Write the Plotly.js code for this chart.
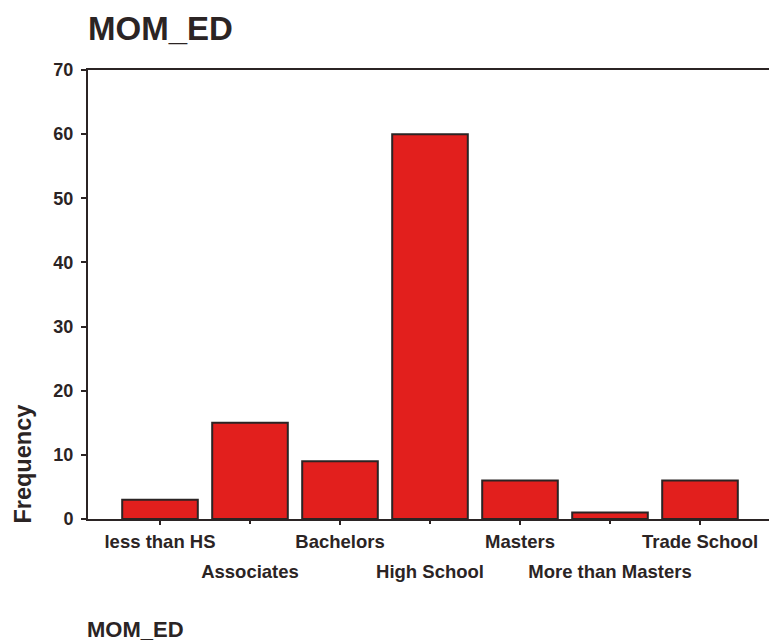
<!DOCTYPE html>
<html>
<head>
<meta charset="utf-8">
<script src="https://cdn.plot.ly/plotly-3.0.1.min.js"></script>
<style>
html, body { margin: 0; padding: 0; width: 769px; height: 643px; overflow: hidden; background: #fff; }
#chart { width: 772px; height: 643px; }
</style>
</head>
<body>
<div id="chart"></div>
<script>
const categories = ["less than HS", "Associates", "Bachelors", "High School", "Masters", "More than Masters", "Trade School"];
const frequencies = [3, 15, 9, 60, 6, 1, 6];
const yTicks = [0, 10, 20, 30, 40, 50, 60, 70];
const chartTitle = "MOM_ED";
const xTitle = "MOM_ED";
const yTitle = "Frequency";

const FONT = "Liberation Sans, Arial, Helvetica, sans-serif";
const INK = "#2b2424";

const rowA = categories.map((c, i) => i).filter(i => i % 2 === 0);
const rowB = categories.map((c, i) => i).filter(i => i % 2 === 1);

const trace = {
  type: "bar",
  x: categories.map((c, i) => i),
  y: frequencies,
  width: 0.84,
  marker: { color: "#e21f1d", line: { color: INK, width: 2 } },
  hoverinfo: "x+y"
};

const layout = {
  width: 772, height: 643,
  margin: { l: 88, r: 0, t: 70, b: 123.5 },
  paper_bgcolor: "#ffffff",
  plot_bgcolor: "#ffffff",
  showlegend: false,
  font: { family: FONT, color: INK, weight: "bold" },
  title: {
    text: chartTitle,
    font: { family: FONT, size: 33, color: INK, weight: "bold" },
    xref: "paper", x: 0, xanchor: "left",
    yref: "container", y: 1 - 28 / 643, yanchor: "middle"
  },
  xaxis: {
    type: "linear",
    range: [-0.8, 6.8],
    tickmode: "array",
    tickvals: rowA,
    ticktext: rowA.map(i => categories[i]),
    ticks: "outside", ticklen: 4, tickwidth: 2, tickcolor: INK,
    showline: true, linecolor: INK, linewidth: 2, mirror: true,
    showgrid: false, zeroline: false,
    ticklabelstandoff: 1,
    tickfont: { family: FONT, size: 18.5, color: INK, weight: "bold" },
    fixedrange: true
  },
  xaxis2: {
    type: "linear",
    overlaying: "x", anchor: "y", side: "bottom",
    range: [-0.8, 6.8],
    tickmode: "array",
    tickvals: rowB,
    ticktext: rowB.map(i => categories[i]),
    ticks: "outside", ticklen: 4, tickwidth: 2, tickcolor: INK,
    showline: false, showgrid: false, zeroline: false,
    ticklabelstandoff: 32,
    tickfont: { family: FONT, size: 18.5, color: INK, weight: "bold" },
    fixedrange: true
  },
  yaxis: {
    range: [0, 70],
    tickmode: "array",
    tickvals: yTicks,
    ticks: "outside", ticklen: 5, tickwidth: 2, tickcolor: INK,
    showline: true, linecolor: INK, linewidth: 2,
    showgrid: false, zeroline: false,
    ticklabelstandoff: 4,
    tickfont: { family: FONT, size: 18, color: INK, weight: "bold" },
    fixedrange: true
  },
  annotations: [
    {
      text: yTitle, textangle: -90,
      xref: "paper", x: (23 - 88) / 684, xanchor: "center",
      yref: "paper", y: (519.5 - 465) / 449.5, yanchor: "middle",
      showarrow: false,
      font: { family: FONT, size: 23.5, color: INK, weight: "bold" }
    },
    {
      text: xTitle,
      xref: "paper", x: 0, xanchor: "left", xshift: -3,
      yref: "paper", y: (519.5 - 630) / 449.5, yanchor: "middle",
      showarrow: false,
      font: { family: FONT, size: 22, color: INK, weight: "bold" }
    }
  ]
};

const dummy = { type: "scatter", x: [], y: [], xaxis: "x2", yaxis: "y", hoverinfo: "skip" };

Plotly.newPlot("chart", [trace, dummy], layout, { displayModeBar: false });
</script>
</body>
</html>
